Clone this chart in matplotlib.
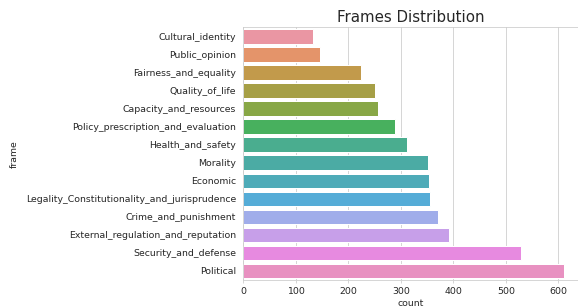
import matplotlib
matplotlib.use("Agg")
import matplotlib.pyplot as plt
import seaborn as sns

# frame counts (sorted ascending)
frames = [
    "Cultural_identity",
    "Public_opinion",
    "Fairness_and_equality",
    "Quality_of_life",
    "Capacity_and_resources",
    "Policy_prescription_and_evaluation",
    "Health_and_safety",
    "Morality",
    "Economic",
    "Legality_Constitutionality_and_jurisprudence",
    "Crime_and_punishment",
    "External_regulation_and_reputation",
    "Security_and_defense",
    "Political",
]
counts = [133, 147, 225, 251, 257, 288, 312, 352, 354, 356, 370, 391, 529, 611]
x_ticks = [0, 100, 200, 300, 400, 500, 600]

sns.set_style("whitegrid")
plt.rcParams['font.family'] = ['DejaVu Sans']

fig = plt.figure(figsize=(578 / 72, 306 / 72), dpi=72)
ax = fig.add_axes([243.3 / 578, 26 / 306, 334.2 / 578, 252.7 / 306])

sns.barplot(x=counts, y=frames, hue=frames, palette=sns.husl_palette(len(frames), l=.7),
            saturation=.75, legend=False, ax=ax)

ax.set_xlim(0, 636.5)
ax.set_xticks(x_ticks)
ax.set_xlabel("count", fontsize=9.4, color=".15", labelpad=3.5)
ax.set_ylabel("frame", fontsize=9.4, color=".15", labelpad=7)
ax.set_title("Frames Distribution", fontsize=15, color=".15", pad=5.5)
ax.tick_params(axis="x", length=3.3, color=".8", labelsize=9.4, labelcolor=".15", bottom=True, pad=3.3)
ax.tick_params(axis="y", length=0, pad=7, labelsize=9.4, labelcolor=".15")
ax.yaxis.grid(False)
for s in ax.spines.values():
    s.set_color(".8")

fig.savefig("out.png", dpi=72)
